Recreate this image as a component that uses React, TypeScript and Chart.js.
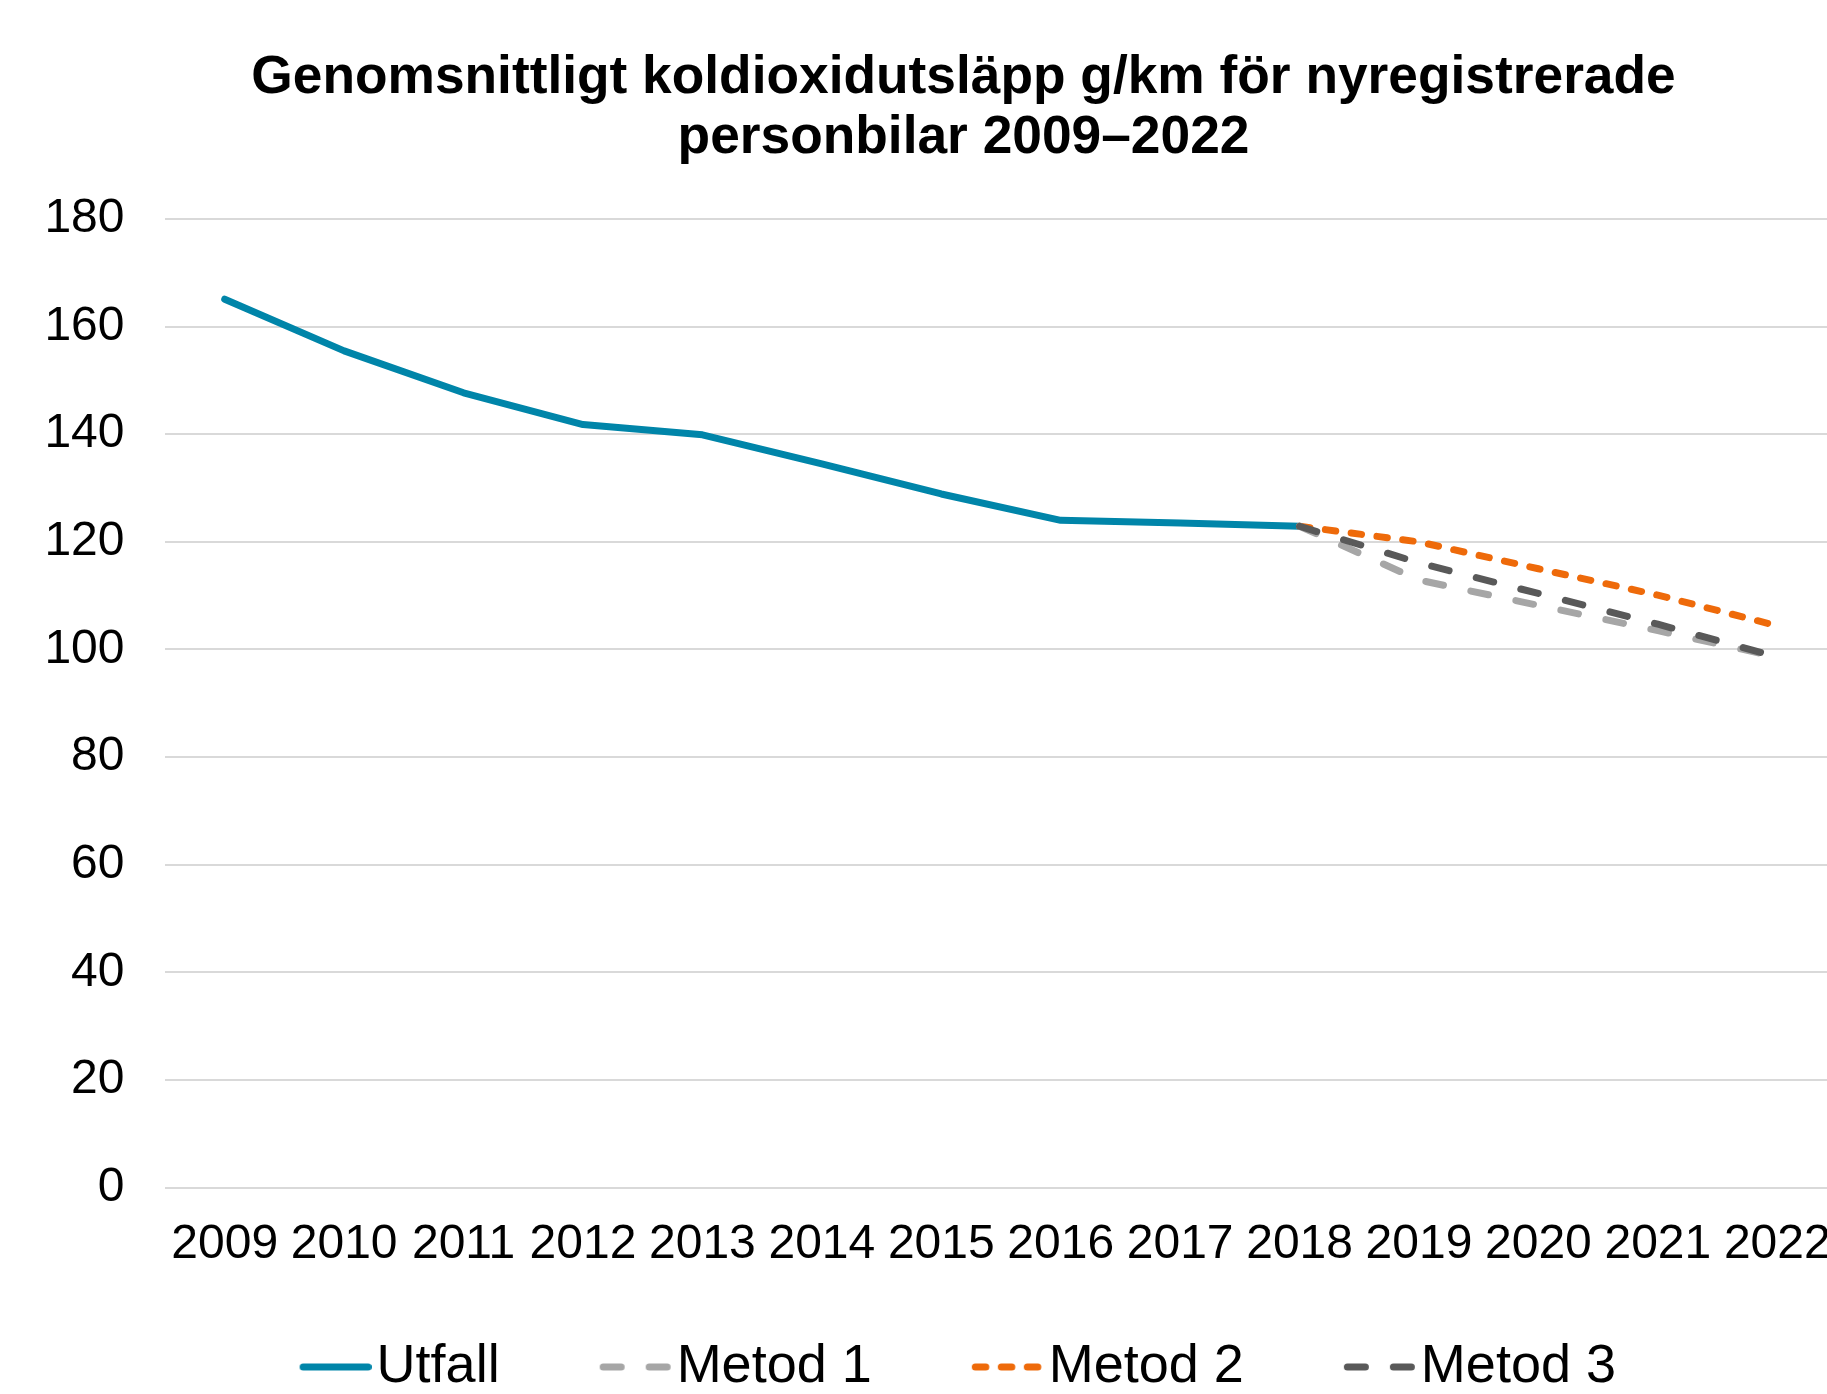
import React, { useEffect, useRef } from "react";
import { Chart, registerables } from "chart.js";

Chart.register(...registerables);

// ---- Data ----
const years = ["2009", "2010", "2011", "2012", "2013", "2014", "2015", "2016", "2017", "2018", "2019", "2020", "2021", "2022"];
const utfall = [165.1, 155.5, 147.7, 141.8, 139.9, 134.5, 128.9, 124.0, 123.5, 122.9, null, null, null, null];
const metod1 = [null, null, null, null, null, null, null, null, null, 122.9, 112.9, 108.2, 103.5, 98.6];
const metod2 = [null, null, null, null, null, null, null, null, null, 122.9, 120.0, 115.0, 110.1, 104.4];
const metod3 = [null, null, null, null, null, null, null, null, null, 122.9, 116.1, 110.4, 104.7, 98.6];
const seriesNames = ["Utfall", "Metod 1", "Metod 2", "Metod 3"];
const titleLines = ["Genomsnittligt koldioxidutsläpp g/km för nyregistrerade", "personbilar 2009–2022"];
const yMin = 0;
const yMax = 180;
const yStep = 20;

// ---- Styles ----
const FONT = "'Liberation Sans', Arial, Helvetica, sans-serif";
const colors = ["#0085A9", "#A6A6A6", "#EE6A0A", "#595959"];
const dashes: number[][] = [[], [18, 28], [10.5, 15.5], [18, 28]];
const orders = [4, 2, 3, 1];
const PAD_LEFT = 90;
const PLOT_LEFT = 165;
const X_LABEL_GAP = 28.6;
const LEGEND_SHIFT = -5.7;

function makeLegendLine(color: string, dash: number[]) {
  const c = document.createElement("canvas");
  c.width = 94;
  c.height = 14;
  const g = c.getContext("2d")!;
  g.strokeStyle = color;
  g.lineWidth = 7;
  g.lineCap = "round";
  g.setLineDash(dash);
  g.beginPath();
  g.moveTo(25.5, 7);
  g.lineTo(90.5, 7);
  g.stroke();
  return c;
}

// Let the axis labels draw outside their own layout boxes (no clipping),
// and nudge the legend row horizontally.
const layoutTweaks = {
  id: "layoutTweaks",
  afterLayout(chart: any) {
    const y = chart.scales.y;
    const x = chart.scales.x;
    if (y) y.left = 0;
    if (x) {
      x.top += X_LABEL_GAP;
      x.bottom = chart.height;
    }
    if (chart.legend) {
      chart.legend.left += LEGEND_SHIFT;
      chart.legend.right += LEGEND_SHIFT;
    }
  },
};

export default function App() {
  const ref = useRef<HTMLCanvasElement>(null);

  useEffect(() => {
    if (!ref.current) return;
    const series = [utfall, metod1, metod2, metod3];
    const markers = series.map((_, i) => makeLegendLine(colors[i], dashes[i]));
    const chart = new Chart(ref.current, {
      type: "line",
      data: {
        labels: years,
        datasets: series.map((d, i) => ({
          label: seriesNames[i],
          data: d,
          borderColor: colors[i],
          backgroundColor: colors[i],
          borderWidth: 7,
          borderDash: dashes[i],
          borderCapStyle: "round",
          borderJoinStyle: "round",
          pointRadius: 0,
          pointHoverRadius: 0,
          fill: false,
          tension: 0,
          order: orders[i],
        })) as any,
      },
      plugins: [layoutTweaks],
      options: {
        animation: false,
        responsive: false,
        devicePixelRatio: 1,
        events: [],
        layout: { padding: { left: PAD_LEFT, right: 3, top: 0, bottom: 16 } },
        plugins: {
          tooltip: { enabled: false },
          title: {
            display: true,
            text: titleLines,
            color: "#000",
            font: { family: FONT, size: 53.3, weight: "bold", lineHeight: 1.137 },
            padding: { top: 47.7, bottom: 50.1 },
          },
          legend: {
            display: true,
            position: "bottom",
            labels: {
              usePointStyle: true,
              pointStyleWidth: 50,
              boxHeight: 14,
              padding: 100,
              color: "#000",
              font: { family: FONT, size: 54 },
              sort: (a: any, b: any) => a.datasetIndex - b.datasetIndex,
              generateLabels: (ch: any) =>
                ch.data.datasets.map((ds: any, i: number) => ({
                  text: ds.label,
                  pointStyle: markers[i],
                  fillStyle: colors[i],
                  strokeStyle: colors[i],
                  lineWidth: 0,
                  hidden: false,
                  datasetIndex: i,
                  fontColor: "#000",
                })),
            },
          },
        },
        scales: {
          x: {
            type: "category",
            offset: true,
            grid: { display: false, drawTicks: false },
            border: { display: false },
            ticks: {
              autoSkip: false,
              maxRotation: 0,
              minRotation: 0,
              padding: 0,
              color: "#000",
              font: { family: FONT, size: 48 },
            },
            afterFit: (s: any) => {
              s.height = 52.4;
            },
          },
          y: {
            min: yMin,
            max: yMax,
            grid: { color: "#D9D9D9", lineWidth: 2, drawTicks: false },
            border: { display: false },
            ticks: {
              stepSize: yStep,
              padding: 40.5,
              color: "#000",
              font: { family: FONT, size: 48 },
            },
            afterFit: (s: any) => {
              s.width = PLOT_LEFT - PAD_LEFT;
            },
          },
        },
      } as any,
    });
    return () => chart.destroy();
  }, []);

  return (
    <div
      style={{
        position: "fixed",
        left: 0,
        top: 0,
        width: 1827,
        height: 1394,
        overflow: "hidden",
        background: "#fff",
      }}
    >
      <canvas ref={ref} width={1840} height={1420} style={{ display: "block" }} />
    </div>
  );
}
